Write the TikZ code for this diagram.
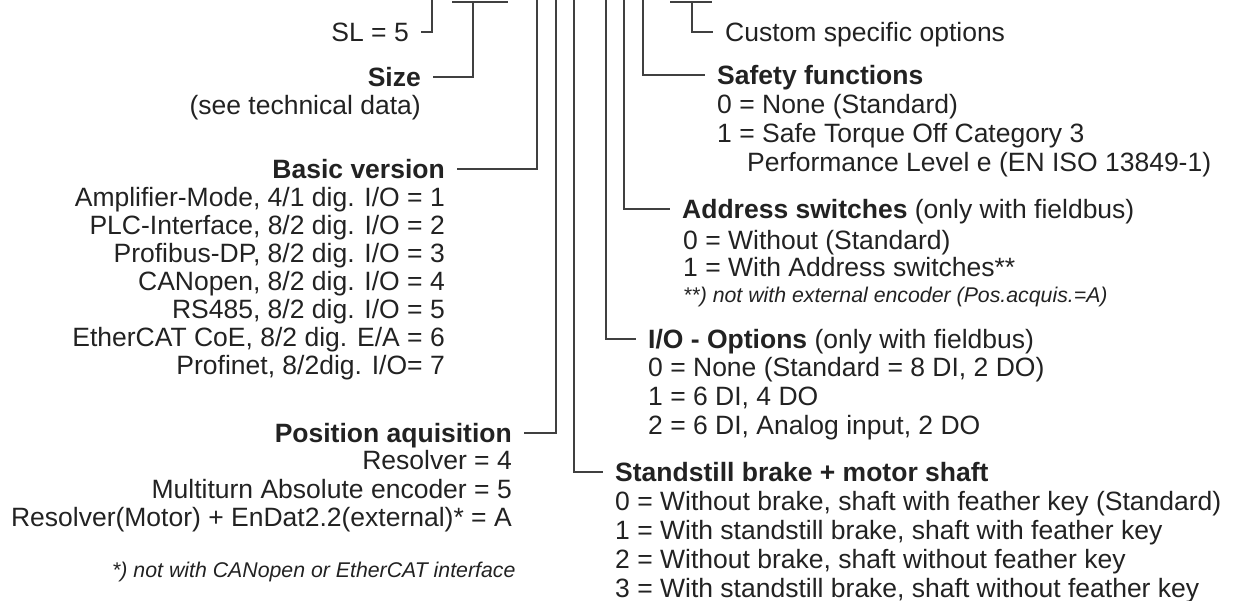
\documentclass[tikz,border=0pt]{standalone}
\usepackage{fontspec}
\setmainfont{Liberation Sans}
\usetikzlibrary{positioning}

\definecolor{ink}{HTML}{222222}
\definecolor{leadgray}{HTML}{404040}

\tikzset{
  txt/.style={inner sep=0pt, text=ink, font=\fontsize{26.5}{28}\selectfont},
  hd/.style={txt, inner xsep=12pt, text depth=0pt},
  note/.style={inner sep=0pt, text=ink, font=\itshape\fontsize{21.3}{24}\selectfont},
  lead/.style={draw=leadgray, line width=1.4pt}
}

\begin{document}
\begin{tikzpicture}[x=1pt,y=-1pt]
\useasboundingbox (0,0) rectangle (1234,601);

% upper ends of the leads
\coordinate (sl-top) at (432,0);
\coordinate (size-l) at (452,2);
\coordinate (size-r) at (508,2);
\coordinate (size-top) at (473,2);
\coordinate (basic-top) at (537,0);
\coordinate (pos-top) at (556,0);
\coordinate (brake-top) at (574,0);
\coordinate (io-top) at (606,0);
\coordinate (addr-top) at (624,0);
\coordinate (safety-top) at (643,0);
\coordinate (custom-l) at (670,2);
\coordinate (custom-r) at (712,2);
\coordinate (custom-top) at (692,2);

% left side
\node[hd, anchor=east] (sl) at (421,32) {SL = 5};
\node[hd, anchor=east] (size) at (433,77) {\textbf{Size}};
\node[txt, anchor=base east] (sizenote) at (421,114.5) {(see technical data)};

\node[hd, anchor=east] (basic) at (457,169) {\textbf{Basic version}};
\foreach \entry [count=\i] in {{Amplifier-Mode, 4/1 dig. I/O = 1},{PLC-Interface, 8/2 dig. I/O = 2},
    {Profibus-DP, 8/2 dig. I/O = 3},{CANopen, 8/2 dig. I/O = 4},{RS485, 8/2 dig. I/O = 5},
    {EtherCAT CoE, 8/2 dig. E/A = 6},{Profinet, 8/2dig. I/O= 7}}
  \node[txt, anchor=base east] (basic-\i) at (445,{178.5+28*\i}) {\entry};

\node[hd, anchor=east] (pos) at (524,433) {\textbf{Position aquisition}};
\foreach \entry [count=\i] in {Resolver = 4,Multiturn Absolute encoder = 5,
    Resolver(Motor) + EnDat2.2(external)* = A}
  \node[txt, anchor=base east] (pos-\i) at (512,{441+28.5*\i}) {\entry};
\node[note, anchor=base west] (posnote) at (112,577.6) {*) not with CANopen or EtherCAT interface};

% right side
\node[hd, anchor=west] (custom) at (713,32) {Custom specific options};

\node[hd, anchor=west] (safety) at (705,75) {\textbf{Safety functions}};
\node[txt, anchor=base west] (safety-1) at (717,113.5) {0 = None (Standard)};
\node[txt, anchor=base west] (safety-2) at (717,142.5) {1 = Safe Torque Off Category 3};
\node[txt, anchor=base west] (safety-3) at (747,171.5) {Performance Level e (EN ISO 13849-1)};

\node[hd, anchor=west] (addr) at (670,209) {\textbf{Address switches} (only with fieldbus)};
\node[txt, anchor=base west] (addr-1) at (683,249.5) {0 = Without (Standard)};
\node[txt, anchor=base west] (addr-2) at (683,276.5) {1 = With Address switches**};
\node[note, anchor=base west] (addrnote) at (683,302.6) {**) not with external encoder (Pos.acquis.=A)};

\node[hd, anchor=west] (io) at (636,339) {\textbf{I/O - Options} (only with fieldbus)};
\foreach \entry [count=\i] in {{0 = None (Standard = 8 DI, 2 DO)},{1 = 6 DI, 4 DO},
    {2 = 6 DI, Analog input, 2 DO}}
  \node[txt, anchor=base west] (io-\i) at (648,{347.5+29*\i}) {\entry};

\node[hd, anchor=west] (brake) at (603,472) {\textbf{Standstill brake + motor shaft}};
\foreach \entry [count=\i] in {{0 = Without brake, shaft with feather key (Standard)},
    {1 = With standstill brake, shaft with feather key},
    {2 = Without brake, shaft without feather key},
    {3 = With standstill brake, shaft without feather key}}
  \node[txt, anchor=base west] (brake-\i) at (615,{481.5+29*\i}) {\entry};

% leads
\draw[lead] (sl-top) |- (sl.east);
\draw[lead] (size-l) -- (size-r);
\draw[lead] (size-top) |- (size.east);
\draw[lead] (basic-top) |- (basic.east);
\draw[lead] (pos-top) |- (pos.east);
\draw[lead] (brake-top) |- (brake.west);
\draw[lead] (io-top) |- (io.west);
\draw[lead] (addr-top) |- (addr.west);
\draw[lead] (safety-top) |- (safety.west);
\draw[lead] (custom-l) -- (custom-r);
\draw[lead] (custom-top) |- (custom.west);

\end{tikzpicture}
\end{document}
